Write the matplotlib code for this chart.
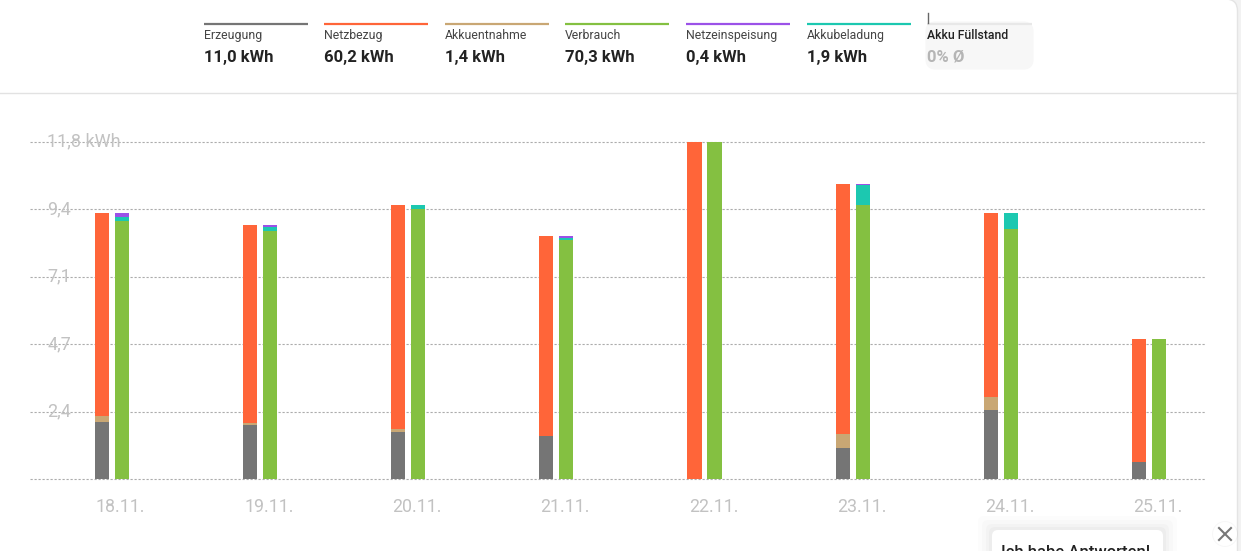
import matplotlib
matplotlib.use("Agg")
import matplotlib.pyplot as plt
import numpy as np
from matplotlib.patches import FancyBboxPatch, Circle
from matplotlib.transforms import ScaledTranslation

plt.rcParams['font.family'] = ['Roboto', 'DejaVu Sans']

dates = ["18.11.", "19.11.", "20.11.", "21.11.", "22.11.", "23.11.", "24.11.", "25.11."]
erzeugung = [2.01, 1.88, 1.66, 1.49, 0.0, 1.07, 2.43, 0.61]
akkuentnahme = [0.21, 0.07, 0.10, 0.0, 0.0, 0.52, 0.45, 0.0]
netzbezug = [7.10, 6.95, 7.84, 7.02, 11.80, 8.71, 6.44, 4.30]
verbrauch = [9.02, 8.67, 9.46, 8.37, 11.80, 9.58, 8.74, 4.91]
akkubeladung = [0.16, 0.16, 0.14, 0.07, 0.0, 0.70, 0.56, 0.0]
netzeinspeisung = [0.14, 0.07, 0.0, 0.07, 0.0, 0.02, 0.02, 0.0]
y_ticks = [0, 2.36, 4.72, 7.08, 9.44, 11.8]
y_labels = ["", "2,4", "4,7", "7,1", "9,4", "11,8 kWh"]

legend_names = ["Erzeugung", "Netzbezug", "Akkuentnahme", "Verbrauch", "Netzeinspeisung", "Akkubeladung", "Akku Füllstand"]
legend_values = ["11,0 kWh", "60,2 kWh", "1,4 kWh", "70,3 kWh", "0,4 kWh", "1,9 kWh", "0% Ø"]
colors = {"Erzeugung": "#757575", "Netzbezug": "#ff6539", "Akkuentnahme": "#c9a774",
          "Verbrauch": "#84c041", "Netzeinspeisung": "#9b51e8", "Akkubeladung": "#1cc8b0",
          "Akku Füllstand": "#e8e8e8"}

W, H = 1241, 551
fig = plt.figure(figsize=(W / 100, H / 100), dpi=100, facecolor="#f2f2f2")

# page card behind everything
bg = fig.add_axes([0, 0, 1, 1], zorder=-1)
bg.set_xlim(0, W)
bg.set_ylim(H, 0)
bg.axis("off")
bg.add_patch(FancyBboxPatch((-30, -1), 1267.5, H + 40, boxstyle="round,pad=0,rounding_size=12",
                            mutation_scale=1, fc="white", ec="#e4e4e4", lw=1))

# chart
L, R, T, B = 30, 1205, 141.6, 479
ax = fig.add_axes([L / W, 1 - B / H, (R - L) / W, (B - T) / H])
ax.set_xlim((L - 111.7) / 148.2, (R - 111.7) / 148.2)
ax.set_ylim(0, 11.8)
for s in ax.spines.values():
    s.set_visible(False)
ax.patch.set_alpha(0)

x = np.arange(len(dates))
bw, off = 14.3 / 148.2, 10 / 148.2
def stack(xpos, series):
    bottom = np.zeros(len(dates))
    for name, vals in series:
        ax.bar(xpos, vals, bw, bottom=bottom, color=colors[name], linewidth=0, zorder=3)
        bottom += np.array(vals)

stack(x - off, [("Erzeugung", erzeugung), ("Akkuentnahme", akkuentnahme), ("Netzbezug", netzbezug)])
stack(x + off, [("Verbrauch", verbrauch), ("Akkubeladung", akkubeladung), ("Netzeinspeisung", netzeinspeisung)])

ax.set_yticks(y_ticks, y_labels)
ax.yaxis.grid(True, color="#acacac", lw=0.8, linestyle=(0, (2, 1.6)), zorder=1)
for gl in ax.get_ygridlines():
    gl.set_clip_on(False)
ax.set_axisbelow(True)
ax.tick_params(axis="y", length=0, pad=-12.3, labelsize=13, labelcolor="#c2c2c2")
shift = ScaledTranslation(0, 2 / 100, fig.dpi_scale_trans)
for lab in ax.get_yticklabels():
    lab.set_ha("left")
    lab.set_transform(lab.get_transform() + shift)
ax.set_xticks(x + 0.06, dates)
ax.tick_params(axis="x", length=0, pad=13.5, labelsize=12.8, labelcolor="#c2c2c2")

# page furniture in pixel coordinates
ov = fig.add_axes([0, 0, 1, 1], zorder=5)
ov.set_xlim(0, W)
ov.set_ylim(H, 0)
ov.axis("off")
ov.patch.set_alpha(0)

ov.plot([0, 1237], [92.5, 92.5], color="#e2e2e2", lw=1)

xs = [204, 324, 445, 565, 686, 807, 927]
ov.add_patch(FancyBboxPatch((931, 27), 97, 37, boxstyle="round,pad=0,rounding_size=4",
                            mutation_scale=1, fc="#f7f7f7", ec="#f7f7f7", lw=8, joinstyle="round"))
for xp, name, val in zip(xs, legend_names, legend_values):
    last = name == "Akku Füllstand"
    ov.plot([xp, xp + (105 if last else 104)], [23.5, 23.5], color=colors[name], lw=1.6, solid_capstyle="butt")
    ov.text(xp, 39, name, fontsize=8.8, color="#222222" if last else "#444444", va="baseline", ha="left",
            fontweight="medium" if last else "normal")
    ov.text(xp, 62, val, fontsize=12, color="#b5b5b5" if last else "#222222", va="baseline", ha="left",
            fontweight="bold")
ov.plot([928, 928], [13, 23], color="#666666", lw=1)

# chat widget remnants
for g, a in zip((14, 10, 6, 3), (0.012, 0.015, 0.02, 0.025)):
    ov.add_patch(FancyBboxPatch((992 - g, 530 - g), 171 + 2 * g, 60, boxstyle="round,pad=0,rounding_size=6",
                                mutation_scale=1, fc="black", ec="none", alpha=a))
ov.add_patch(FancyBboxPatch((992, 530), 171, 60, boxstyle="round,pad=0,rounding_size=6",
                            mutation_scale=1, fc="white", ec="none"))
ov.text(1001, 557, "Ich habe Antworten!", fontsize=12, color="#222222", va="baseline", ha="left",
        fontweight="medium", clip_on=True)
ov.add_patch(Circle((1225, 534), 13, fc="black", ec="none", alpha=0.03))
ov.add_patch(Circle((1225, 534), 12, fc="white", ec="none"))
ov.plot([1219, 1231], [528, 540], color="#777777", lw=1.5)
ov.plot([1219, 1231], [540, 528], color="#777777", lw=1.5)

fig.savefig("out.png", dpi=100, facecolor=fig.get_facecolor())
